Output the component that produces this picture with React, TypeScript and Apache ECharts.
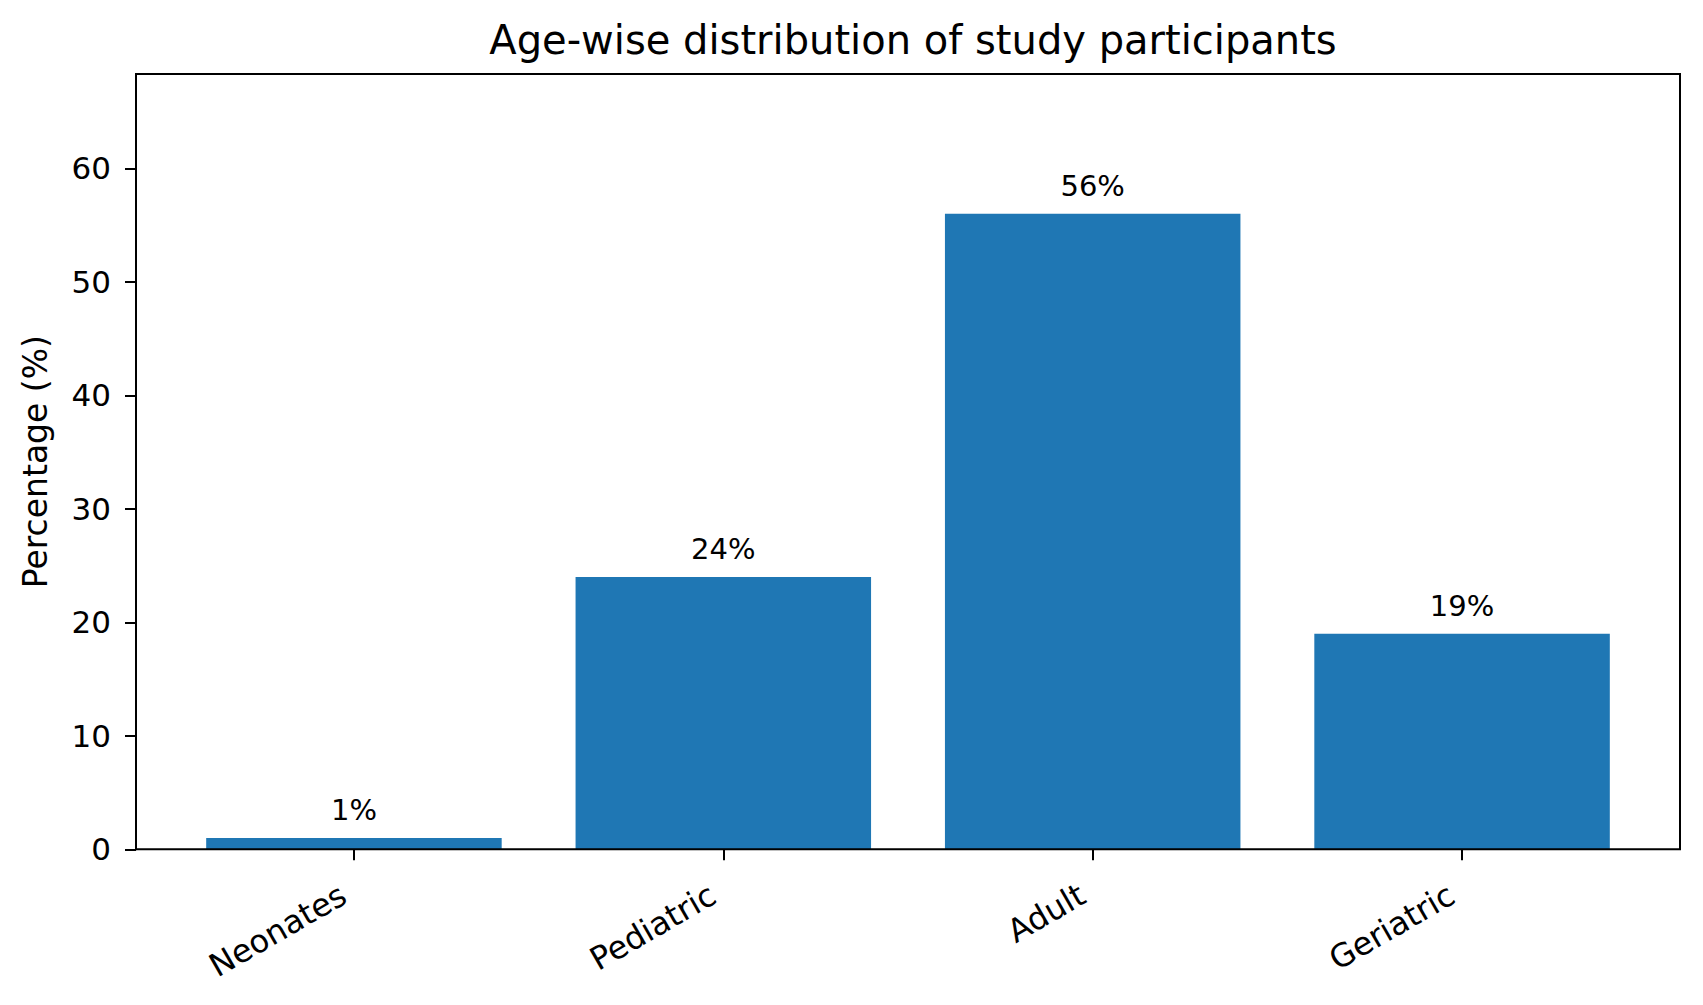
import React, { useEffect, useRef } from "react";
import * as echarts from "echarts";

const categories = ["Neonates", "Pediatric", "Adult", "Geriatric"];
const percentages = [1, 24, 56, 19];
const barLabels = ["1%", "24%", "56%", "19%"];
const yTicks = [0, 10, 20, 30, 40, 50, 60];

const W = 1703;
const H = 1005;
const FRAME_L = 136;
const FRAME_R = 1680;
const FRAME_T = 74;
const FRAME_B = 849.3;
const Y_MAX = 68.32;
const FONT = "DejaVu Sans";

export default function App() {
  const ref = useRef<HTMLDivElement>(null);
  useEffect(() => {
    document.body.style.margin = "0";
    document.body.style.overflow = "hidden";
    if (!ref.current) return;
    const chart = echarts.init(ref.current, undefined, { renderer: "svg" });
    const unit = (FRAME_R - FRAME_L) / 4.18;
    const inner = 0.09 * unit;
    const option: any = {
      animation: false,
      backgroundColor: "#ffffff",
      textStyle: { fontFamily: FONT },
      title: {
        text: "Age-wise distribution of study participants",
        left: (FRAME_L + FRAME_R) / 2,
        textAlign: "center",
        top: 15,
        textStyle: { fontFamily: FONT, fontSize: 40, fontWeight: "normal", color: "#000" },
      },
      grid: [
        {
          left: FRAME_L + inner,
          right: W - FRAME_R + inner,
          top: FRAME_T,
          bottom: H - FRAME_B,
          containLabel: false,
        },
        {
          left: FRAME_L,
          right: W - FRAME_R,
          top: FRAME_T,
          bottom: H - FRAME_B,
          show: true,
          borderColor: "#000",
          borderWidth: 2,
          backgroundColor: "transparent",
          containLabel: false,
          z: 5,
        },
      ],
      xAxis: [
        {
          type: "category",
          gridIndex: 0,
          data: categories,
          boundaryGap: true,
          axisLine: { show: false },
          axisTick: { show: true, alignWithLabel: true, length: 11, lineStyle: { color: "#000", width: 2 } },
          axisLabel: {
            rotate: 30,
            margin: 37,
            fontSize: 32,
            color: "#000",
            fontFamily: FONT,
            interval: 0,
            padding: [0, 12, 0, 0],
          },
          splitLine: { show: false },
        },
        {
          type: "value",
          gridIndex: 1,
          show: false,
          min: 0,
          max: 1,
        },
      ],
      yAxis: [
        {
          type: "value",
          gridIndex: 0,
          min: 0,
          max: Y_MAX,
          show: false,
          splitLine: { show: false },
        },
        {
          type: "value",
          gridIndex: 1,
          min: 0,
          max: Y_MAX,
          interval: 10,
          name: "Percentage (%)",
          nameLocation: "middle",
          nameGap: 84,
          nameTextStyle: { fontFamily: FONT, fontSize: 33, color: "#000" },
          axisLine: { show: true, lineStyle: { color: "#000", width: 2 } },
          axisTick: { show: true, length: 11, lineStyle: { color: "#000", width: 2 } },
          axisLabel: {
            margin: 25,
            fontSize: 31,
            color: "#000",
            fontFamily: FONT,
            showMaxLabel: false,
            formatter: (v: number) => (yTicks.includes(v) ? String(v) : ""),
          },
          splitLine: { show: false },
        },
      ],
      series: [
        {
          type: "bar",
          xAxisIndex: 0,
          yAxisIndex: 0,
          data: percentages,
          barWidth: "80%",
          itemStyle: { color: "#1f77b4" },
          label: {
            show: true,
            position: "top",
            distance: 13,
            fontSize: 29,
            color: "#000",
            fontFamily: FONT,
            formatter: (p: any) => barLabels[p.dataIndex],
          },
          z: 2,
        },
      ],
    };
    chart.setOption(option);
    return () => chart.dispose();
  }, []);
  return <div ref={ref} style={{ width: W, height: H }} />;
}
